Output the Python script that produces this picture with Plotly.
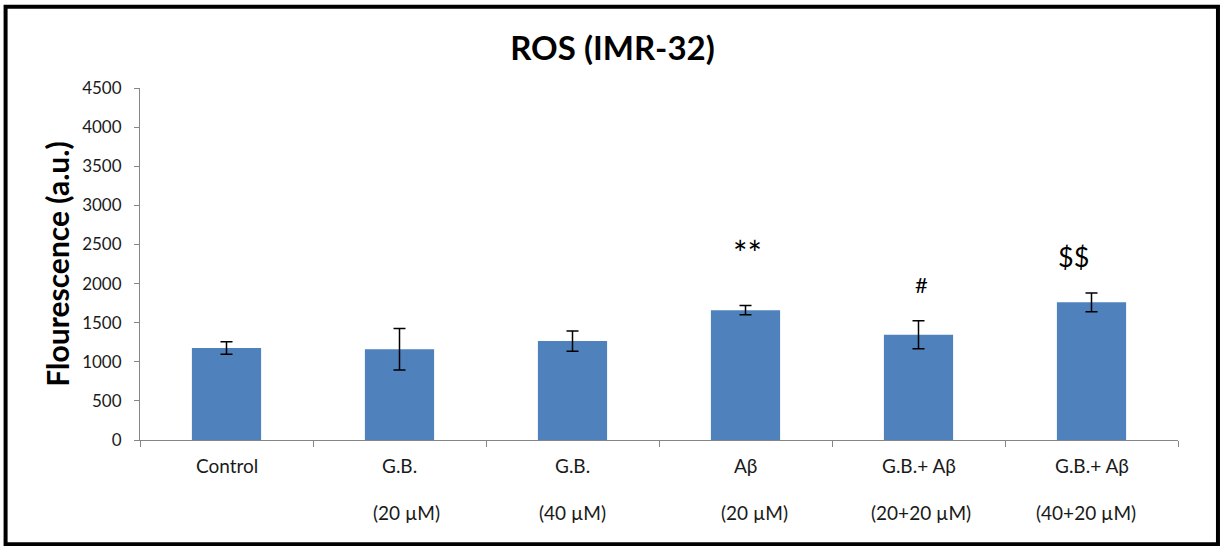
import plotly.graph_objects as go

# Group names (first line) and concentrations (second line)
groups = ["Control", "G.B.", "G.B.", "Aβ", "G.B.+ Aβ", "G.B.+ Aβ"]
doses = ["", "(20 µM)", "(40 µM)", "(20 µM)", "(20+20 µM)", "(40+20 µM)"]
categories = ["Control", "G.B. 20", "G.B. 40", "Aβ 20", "G.B.+Aβ 20+20", "G.B.+Aβ 40+20"]

# Mean fluorescence and error (a.u.)
ros_mean = [1175, 1160, 1265, 1660, 1345, 1760]
ros_err = [80, 265, 130, 60, 180, 120]

# Significance markers: (category index, label, y position, font size, x shift)
sig_marks = [(3, "**", 2400, 34, 2), (4, "#", 1985, 22, 3), (5, "$$", 2340, 27, -18)]

yticks = list(range(0, 4501, 500))

FONT = "Lato, 'Open Sans', sans-serif"
AXIS_GRAY = "#868686"
TEXT = "#1a1a1a"

# horizontal nudges for the second label line
dose_shift = [0, 7, 0, 9, 2, -6]

fig = go.Figure()
fig.add_trace(go.Bar(
    x=categories,
    y=ros_mean,
    marker=dict(color="#4F81BD", line=dict(width=0)),
    error_y=dict(type="data", array=ros_err, visible=True,
                 color="black", thickness=1.5, width=6),
    width=0.4,
))

annotations = []
for cat, g, d, ds in zip(categories, groups, doses, dose_shift):
    annotations.append(dict(x=cat, y=-0.072, xref="x", yref="paper", text=g,
                            showarrow=False, yanchor="middle",
                            font=dict(family=FONT, size=19, color=TEXT)))
    if d:
        annotations.append(dict(x=cat, y=-0.207, xref="x", yref="paper", text=d,
                                showarrow=False, yanchor="middle", xshift=ds,
                                font=dict(family=FONT, size=19, color=TEXT)))
for idx, txt, yv, fs, xs in sig_marks:
    annotations.append(dict(x=categories[idx], y=yv, xref="x", yref="y", text=txt,
                            showarrow=False, yanchor="middle", xshift=xs,
                            font=dict(family=FONT, size=fs, color="black")))

fig.update_layout(
    width=1225, height=546,
    margin=dict(l=140, r=47, t=88, b=106),
    paper_bgcolor="white", plot_bgcolor="white",
    showlegend=False,
    title=dict(text="<b>ROS (IMR-32)</b>", x=0.5, xanchor="center",
               y=0.912, yanchor="middle",
               font=dict(family=FONT, size=33, color="black")),
    xaxis=dict(type="category", showticklabels=False, tickson="boundaries",
               ticks="outside", ticklen=6, tickcolor=AXIS_GRAY,
               showline=True, linecolor=AXIS_GRAY, linewidth=1,
               showgrid=False, zeroline=False),
    yaxis=dict(range=[0, 4500], tickvals=yticks, ticks="outside", ticklen=5,
               tickcolor=AXIS_GRAY, showline=True, linecolor=AXIS_GRAY,
               linewidth=1, showgrid=False, zeroline=False,
               ticklabelstandoff=9,
               tickfont=dict(family=FONT, size=17, color=TEXT),
               title=dict(text="<b>Flourescence (a.u.)</b>", standoff=3,
                          font=dict(family=FONT, size=30, color="black"))),
    annotations=annotations,
    shapes=[dict(type="rect", xref="paper", yref="paper",
                 x0=-0.1295, x1=1.0385, y0=-0.296, y1=1.2305,
                 line=dict(color="black", width=4), fillcolor="rgba(0,0,0,0)")],
)

fig.write_html("out.html")
